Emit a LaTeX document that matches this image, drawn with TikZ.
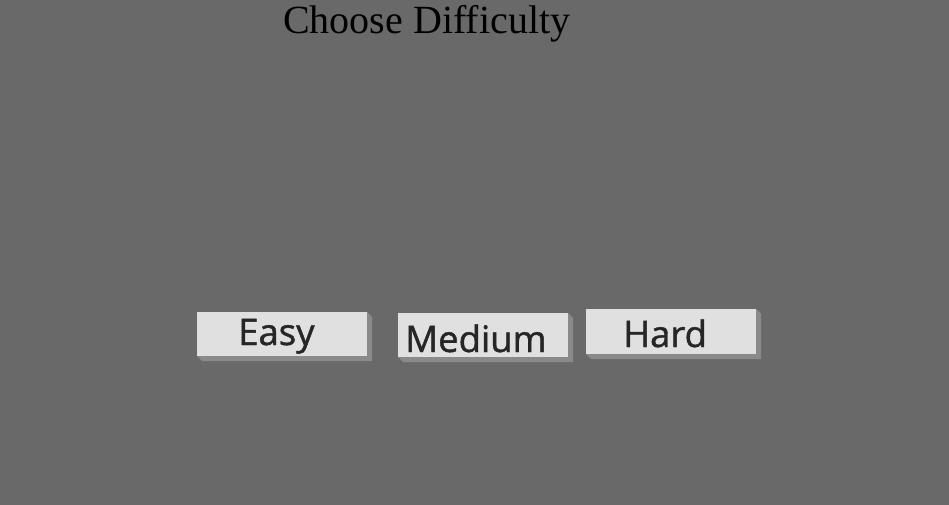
\documentclass[tikz,border=0pt]{standalone}
\usepackage{fontspec}
\setmainfont{Liberation Serif}
\newfontfamily\btnfont[FakeBold=1.2]{Open Sans}
\definecolor{bg}{HTML}{696969}
\definecolor{face}{HTML}{E0E0E0}
\definecolor{btnshadow}{HTML}{8A8A8A}
\definecolor{btntext}{HTML}{262626}
\tikzset{
  btnlabel/.style={anchor=base west, inner sep=0pt, text=btntext, font=\btnfont\fontsize{36.5}{40}\selectfont},
  title/.style={anchor=base west, inner sep=0pt, text=black, font=\fontsize{40}{44}\selectfont}
}
% #1 x0, #2 y0, #3 x1, #4 y1, #5 shadow size, #6 name
\newcommand{\mybutton}[6]{%
  \fill[btnshadow] (#1,#4) -- (#1+#5,#4+#5) -- (#3+#5,#4+#5) -- (#3+#5,#2+#5) -- (#3,#2) -- cycle;
  \fill[face] (#1,#2) rectangle (#3,#4);
  \coordinate (#6) at (#1,#2);
}
\begin{document}
\begin{tikzpicture}[x=1pt,y=-1pt]
\fill[bg] (0,0) rectangle (949,505);
\useasboundingbox (0,0) rectangle (949,505);
\node[title] (ttl) at (283,34) {Choose Difficulty};
\mybutton{197}{312}{367}{356}{5}{easyb}
\mybutton{398}{313}{568}{357}{5}{medb}
\mybutton{586}{309}{756}{354}{5}{hardb}
\node[btnlabel] (easy) at (238,345) {Easy};
\node[btnlabel] (med) at (405,352) {Medium};
\node[btnlabel] (hard) at (623,347) {Hard};
\end{tikzpicture}
\end{document}
